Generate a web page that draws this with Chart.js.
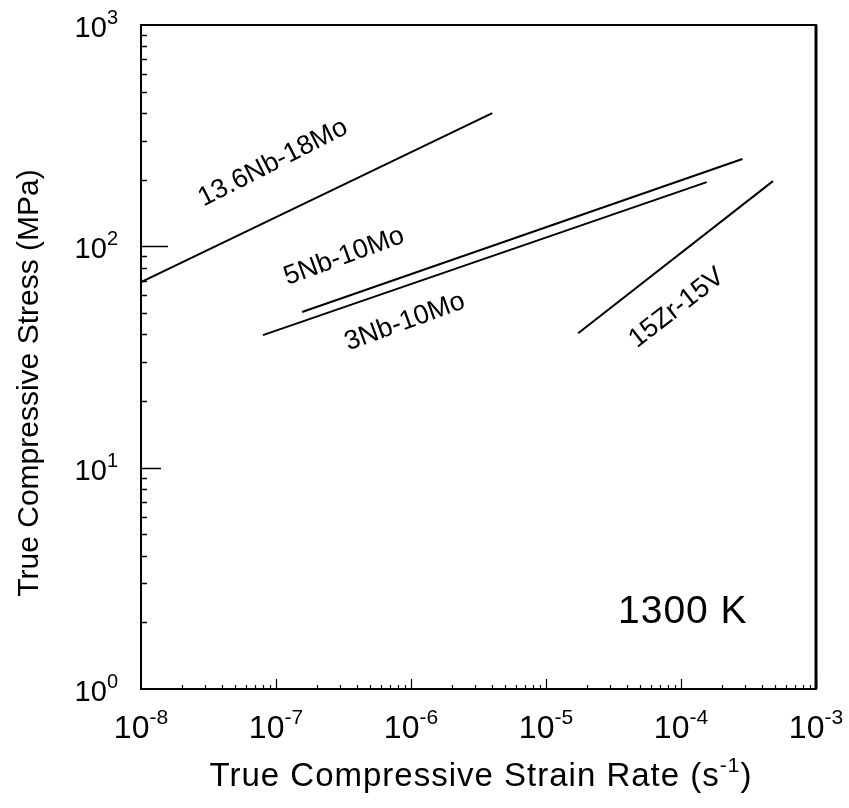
<!DOCTYPE html>
<html>
<head>
<meta charset="utf-8">
<title>True Compressive Stress vs Strain Rate, 1300 K</title>
<script src="https://cdn.jsdelivr.net/npm/chart.js@4.4.1/dist/chart.umd.min.js"></script>
<style>
  html, body { margin: 0; padding: 0; background: #fff; }
  #wrap { width: 849px; height: 808px; position: relative; }
</style>
</head>
<body>
<div id="wrap"><canvas id="c" width="849" height="808"></canvas></div>
<script>
// Alloy power-law fits at 1300 K: strain rate (1/s) vs true compressive stress (MPa)
const alloyNames = ['13.6Nb-18Mo', '5Nb-10Mo', '3Nb-10Mo', '15Zr-15V'];

const rate13Nb18Mo = [1.0e-8, 4.0e-6];
const stress13Nb18Mo = [69, 400];

const rate5Nb10Mo = [1.56e-7, 2.85e-4];
const stress5Nb10Mo = [50.5, 248];

const rate3Nb10Mo = [8.0e-8, 1.55e-4];
const stress3Nb10Mo = [39.7, 195];

const rate15Zr15V = [1.73e-5, 4.8e-4];
const stress15Zr15V = [40.5, 197];

// Decade tick labels (exponents of ten)
const xTickExponents = [-8, -7, -6, -5, -4, -3];
const yTickExponents = [0, 1, 2, 3];

const temperatureLabel = '1300 K';
const xTitle = 'True Compressive Strain Rate (s';
const xTitleExp = '-1';
const yTitle = 'True Compressive Stress (MPa)';

function toPoints(xs, ys) { return xs.map((v, i) => ({ x: v, y: ys[i] })); }

const seriesRates = [rate13Nb18Mo, rate5Nb10Mo, rate3Nb10Mo, rate15Zr15V];
const seriesStress = [stress13Nb18Mo, stress5Nb10Mo, stress3Nb10Mo, stress15Zr15V];

// Where each curve name sits (data coordinates) and its tilt in degrees
const curveLabels = [
  { at: [9.5e-8, 238], angle: 27 },
  { at: [3.2e-7, 90], angle: 20 },
  { at: [9.0e-7, 45.5], angle: 20 },
  { at: [9.3e-5, 52.6], angle: 38 }
];

const FONT = '"Liberation Sans", Arial, Helvetica, sans-serif';

function drawPower(ctx, exp, x, y, align, baseSize, expSize, raise) {
  ctx.font = baseSize + 'px ' + FONT;
  const wb = ctx.measureText('10').width;
  ctx.font = expSize + 'px ' + FONT;
  const we = ctx.measureText(exp).width;
  const total = wb + we;
  let left = x;
  if (align === 'center') left = x - total / 2;
  else if (align === 'right') left = x - total;
  ctx.textAlign = 'left';
  ctx.textBaseline = 'alphabetic';
  ctx.font = baseSize + 'px ' + FONT;
  ctx.fillText('10', left, y);
  ctx.font = expSize + 'px ' + FONT;
  ctx.fillText(exp, left + wb, y - raise);
}

const decor = {
  id: 'decor',
  afterDraw(chart) {
    const { ctx, chartArea: a } = chart;
    const xs = chart.scales.x, ys = chart.scales.y;
    ctx.save();
    ctx.fillStyle = '#000';
    ctx.strokeStyle = '#000';

    // plot frame
    ctx.lineWidth = 2;
    ctx.strokeRect(a.left, a.top, a.right - a.left, a.bottom - a.top);
    ctx.lineWidth = 3;
    ctx.beginPath(); ctx.moveTo(a.right, a.top); ctx.lineTo(a.right, a.bottom); ctx.stroke();

    // y-axis ticks, pointing into the plot
    ctx.lineWidth = 1.5;
    for (let d = yTickExponents[0]; d < yTickExponents[yTickExponents.length - 1]; d++) {
      for (let m = 1; m <= 9; m++) {
        const v = m * Math.pow(10, d);
        if (m === 1 && d === yTickExponents[0]) continue;
        const py = Math.round(ys.getPixelForValue(v)) + 0.5;
        const len = m === 1 ? (d === 2 ? 27 : 20) : 6;
        ctx.beginPath(); ctx.moveTo(a.left, py); ctx.lineTo(a.left + len, py); ctx.stroke();
      }
    }
    // x-axis ticks, pointing up
    ctx.lineWidth = 1.2;
    for (let d = xTickExponents[0]; d < xTickExponents[xTickExponents.length - 1]; d++) {
      for (let m = 2; m <= 10; m++) {
        const v = m * Math.pow(10, d);
        const px = Math.round(xs.getPixelForValue(v)) + 0.5;
        const len = m === 10 ? 10 : 4;
        ctx.beginPath(); ctx.moveTo(px, a.bottom); ctx.lineTo(px, a.bottom - len); ctx.stroke();
      }
    }

    // tick labels
    xTickExponents.forEach(e => {
      const px = xs.getPixelForValue(Math.pow(10, e));
      drawPower(ctx, String(e), px, a.bottom + 49, 'center', 32, 21, 14);
    });
    yTickExponents.forEach(e => {
      const py = ys.getPixelForValue(Math.pow(10, e));
      drawPower(ctx, String(e), a.left - 23, py + 12, 'right', 29, 20, 13);
    });

    // axis titles
    ctx.letterSpacing = '1px';
    ctx.font = '33px ' + FONT;
    const wMain = ctx.measureText(xTitle).width;
    ctx.font = '21px ' + FONT;
    const wExp = ctx.measureText(xTitleExp).width;
    ctx.font = '33px ' + FONT;
    const wClose = ctx.measureText(')').width;
    const tot = wMain + wExp + wClose;
    let tx = 481 - tot / 2;
    const ty = a.bottom + 97;
    ctx.textAlign = 'left'; ctx.textBaseline = 'alphabetic';
    ctx.fillText(xTitle, tx, ty);
    ctx.font = '21px ' + FONT;
    ctx.fillText(xTitleExp, tx + wMain, ty - 14);
    ctx.font = '33px ' + FONT;
    ctx.fillText(')', tx + wMain + wExp, ty);
    ctx.letterSpacing = '0px';

    ctx.save();
    ctx.translate(38, 383);
    ctx.rotate(-Math.PI / 2);
    ctx.textAlign = 'center';
    ctx.font = '30px ' + FONT;
    ctx.fillText(yTitle, 0, 0);
    ctx.restore();

    // curve names along each line
    ctx.font = '27px ' + FONT;
    ctx.textAlign = 'center'; ctx.textBaseline = 'middle';
    curveLabels.forEach((lab, i) => {
      const px = xs.getPixelForValue(lab.at[0]);
      const py = ys.getPixelForValue(lab.at[1]);
      ctx.save();
      ctx.translate(px, py);
      ctx.rotate(-lab.angle * Math.PI / 180);
      ctx.fillText(alloyNames[i], 0, 0);
      ctx.restore();
    });

    // temperature note
    ctx.letterSpacing = '1px';
    ctx.font = '39px ' + FONT;
    ctx.textAlign = 'left'; ctx.textBaseline = 'alphabetic';
    ctx.fillText(temperatureLabel, a.right - 198, a.bottom - 66);
    ctx.letterSpacing = '0px';

    ctx.restore();
  }
};

new Chart(document.getElementById('c'), {
  type: 'line',
  data: {
    datasets: alloyNames.map((name, i) => ({
      label: name,
      data: toPoints(seriesRates[i], seriesStress[i]),
      borderColor: '#000',
      borderWidth: 2,
      pointRadius: 0,
      fill: false,
      tension: 0
    }))
  },
  options: {
    responsive: false,
    animation: false,
    events: [],
    layout: { autoPadding: false, padding: { left: 141, right: 33, top: 25, bottom: 119 } },
    plugins: { legend: { display: false }, tooltip: { enabled: false } },
    scales: {
      x: {
        type: 'logarithmic', min: 1e-8, max: 1e-3,
        grid: { display: false, drawTicks: false },
        ticks: { display: false },
        border: { display: true, color: '#000', width: 2 }
      },
      y: {
        type: 'logarithmic', min: 1, max: 1000,
        grid: { display: false, drawTicks: false },
        ticks: { display: false },
        border: { display: true, color: '#000', width: 2 }
      }
    }
  },
  plugins: [decor]
});
</script>
</body>
</html>
